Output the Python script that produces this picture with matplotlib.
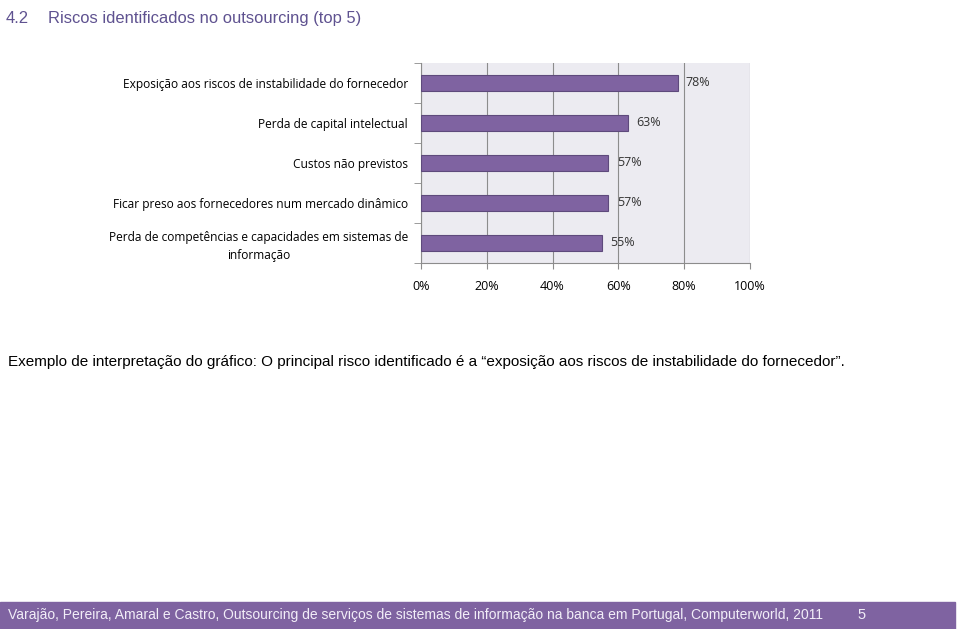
import numpy as np
import matplotlib.pyplot as plt

categories = [
    "Exposição aos riscos de instabilidade do fornecedor",
    "Perda de capital intelectual",
    "Custos não previstos",
    "Ficar preso aos fornecedores num mercado dinâmico",
    "Perda de competências e capacidades em sistemas de\ninformação",
]
values = [78, 63, 57, 57, 55]
xticks = [0, 20, 40, 60, 80, 100]

purple = "#7f63a1"
fig = plt.figure(figsize=(9.6, 6.29), dpi=100)

ax = fig.add_axes([0.4385, 0.5819, 0.3427, 0.318])
ax.set_facecolor("#ecebf1")
y = np.arange(len(categories))
ax.barh(y, values, height=0.42, color=purple, edgecolor="#5e4a7c", linewidth=0.8, zorder=3)
for yi, v in zip(y, values):
    ax.text(v + 2.5, yi, f"{v}%", va="center", ha="left", fontsize=9,
            family="Open Sans", color="#333333", zorder=4)

ax.set_xlim(0, 100)
ax.set_ylim(len(categories) - 0.5, -0.5)
ax.set_xticks(xticks)
ax.set_xticklabels([f"{t}%" for t in xticks], family="Open Sans", fontsize=9)
ax.grid(axis="x", color="#8c8c8c", linewidth=0.8, zorder=0)
ax.tick_params(axis="x", length=4, pad=8, color="#8c8c8c")

ax.set_yticks(y)
ax.set_yticklabels(categories, family="Open Sans", fontsize=8.6, ha="right", linespacing=1.5)
for lab in ax.get_yticklabels():
    lab.set_multialignment("center")
ax.set_yticks(np.arange(-0.5, len(categories)), minor=True)
ax.tick_params(axis="y", which="major", length=0, pad=9.4)
ax.tick_params(axis="y", which="minor", length=5, color="#8c8c8c")
for s in ["top", "right"]:
    ax.spines[s].set_visible(False)
ax.spines["left"].set_color("#8c8c8c")
ax.spines["bottom"].set_color("#8c8c8c")

fig.text(0.006, 0.983, "4.2", fontsize=12, family="Liberation Sans",
         color="#5f5290", va="top")
fig.text(0.05, 0.983, "Riscos identificados no outsourcing (top 5)", fontsize=11.9,
         family="Liberation Sans", color="#5f5290", va="top")

fig.text(0.008, 0.425,
         "Exemplo de interpretação do gráfico: O principal risco identificado é a "
         "“exposição aos riscos de instabilidade do fornecedor”.",
         fontsize=11, family="Liberation Sans", color="black", va="center")

fig.patches.append(plt.Rectangle((0, 0), 0.995, 0.043, transform=fig.transFigure,
                                 color=purple, zorder=0))
fig.text(0.008, 0.0215,
         "Varajão, Pereira, Amaral e Castro, Outsourcing de serviços de sistemas de "
         "informação na banca em Portugal, Computerworld, 2011",
         fontsize=10, family="Liberation Sans", color="#f2eef8", va="center")
fig.text(0.893, 0.0215, "5", fontsize=10.5, family="Liberation Sans",
         color="#f2eef8", va="center")

fig.savefig("out.png", dpi=100)
